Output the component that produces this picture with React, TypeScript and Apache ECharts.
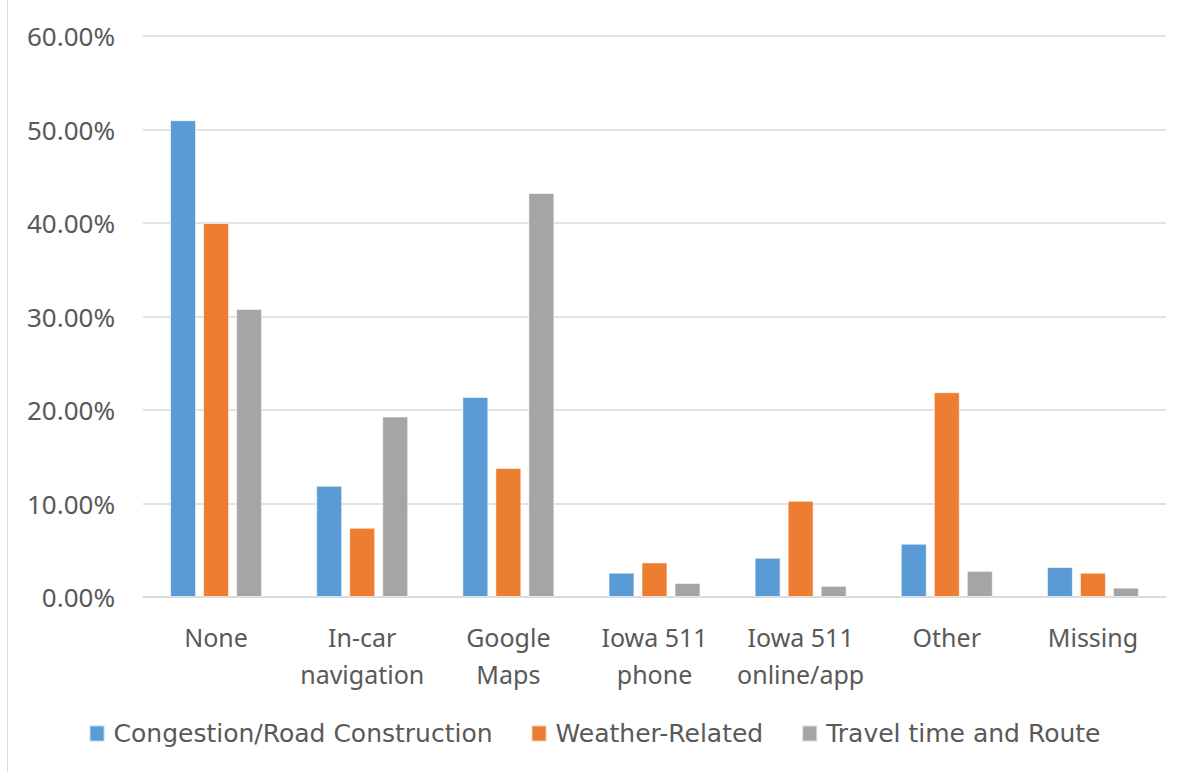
import React, { useEffect, useRef } from "react";
import * as echarts from "echarts";

const categories = ["None", "In-car\nnavigation", "Google\nMaps", "Iowa 511\nphone", "Iowa 511\nonline/app", "Other", "Missing"];
const congestion = [51.0, 11.9, 21.4, 2.6, 4.2, 5.7, 3.2];
const weather = [40.0, 7.4, 13.8, 3.7, 10.3, 21.9, 2.6];
const travel = [30.8, 19.3, 43.2, 1.5, 1.2, 2.8, 1.0];
const seriesNames = ["Congestion/Road Construction", "Weather-Related", "Travel time and Route"];
const colors = ["#5B9BD5", "#ED7D31", "#A5A5A5"];

export default function App() {
  const ref = useRef<HTMLDivElement>(null);
  useEffect(() => {
    if (!ref.current) return;
    const chart = echarts.init(ref.current, undefined, { renderer: "svg" });
    const noto = "'Noto Sans', 'Open Sans', sans-serif";
    const dejavu = "'DejaVu Sans', 'Noto Sans', sans-serif";
    const mk = (name: string, data: number[], color: string) => ({
      name,
      type: "bar",
      data,
      barWidth: 26,
      barGap: "27%",
      itemStyle: { color, borderColor: "rgba(255,255,255,0.6)", borderWidth: 1 },
    });
    chart.setOption({
      animation: false,
      color: colors,
      grid: { left: 143, right: 23, top: 36, bottom: 175 },
      graphic: [
        { type: "line", shape: { x1: 7.5, y1: 0, x2: 7.5, y2: 772 }, style: { stroke: "#d9d9d9", lineWidth: 1 } },
      ],
      legend: {
        bottom: 21,
        left: "center",
        itemWidth: 15,
        itemHeight: 16,
        itemGap: 38,
        icon: "rect",
        textStyle: { fontFamily: dejavu, fontSize: 25, color: "#595959", padding: [0, 0, 0, 4] },
        data: seriesNames,
      },
      xAxis: {
        type: "category",
        data: categories,
        axisLine: { show: true, lineStyle: { color: "#d9d9d9", width: 1.5 } },
        axisTick: { show: false },
        axisLabel: {
          fontFamily: noto,
          fontSize: 25,
          color: "#595959",
          lineHeight: 37,
          margin: 21,
          interval: 0,
        },
      },
      yAxis: {
        type: "value",
        min: 0,
        max: 60,
        interval: 10,
        axisLine: { show: false },
        axisTick: { show: false },
        splitLine: { lineStyle: { color: "#d9d9d9", width: 1.5 } },
        axisLabel: {
          fontFamily: noto,
          fontSize: 26,
          color: "#595959",
          margin: 28,
          formatter: (v: number) => v.toFixed(2) + "%",
        },
      },
      series: [
        mk(seriesNames[0], congestion, colors[0]),
        mk(seriesNames[1], weather, colors[1]),
        mk(seriesNames[2], travel, colors[2]),
      ],
    });
    return () => chart.dispose();
  }, []);
  return <div ref={ref} style={{ width: 1189, height: 772, position: "absolute", left: 0, top: 0, background: "#fff" }} />;
}
